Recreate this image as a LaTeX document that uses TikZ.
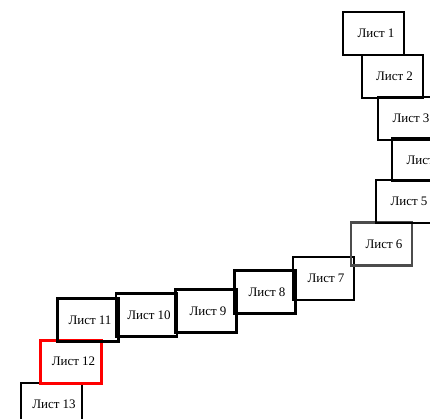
\documentclass[tikz,border=0pt]{standalone}
\usepackage{fontspec}
\setmainfont{Liberation Serif}

\begin{document}
\begin{tikzpicture}[x=1pt, y=-1pt,
    sheet/.style={draw, line width=2pt, minimum width=61pt, minimum height=43pt,
                  inner sep=0pt, font=\fontsize{13}{15}\selectfont,
                  execute at begin node=\hspace*{5pt}}]
    \useasboundingbox (0,0) rectangle (430,419);
    \clip (0,0) rectangle (430,419);

    % нижние листы
    \node[sheet, line width=1.5pt] (list13) at (51.5,404.5) {Лист 13};
    \node[sheet, draw=red, line width=3pt] (list12) at (71,361.5) {Лист 12};
    \node[sheet, line width=3pt] (list11) at (87.5,320) {Лист 11};
    \node[sheet, line width=2.5pt] (list10) at (146.5,315) {Лист 10};
    \node[sheet, line width=3pt] (list9) at (205.5,311) {Лист 9};
    \node[sheet, line width=3pt] (list8) at (264.5,292) {Лист 8};
    \node[sheet, line width=2.5pt] (list7) at (323.5,278.5) {Лист 7};

    % серый лист
    \node[sheet, draw=black!70, line width=2.5pt] (list6) at (381.5,244) {Лист 6};

    % верхние листы
    \node[sheet, line width=1.5pt] (list5) at (406.5,201.5) {Лист 5};
    \node[sheet] (list4) at (422.5,160) {Лист 4};
    \node[sheet] (list3) at (408.5,118.5) {Лист 3};
    \node[sheet] (list2) at (392,76.5) {Лист 2};
    \node[sheet] (list1) at (373.5,33.5) {Лист 1};
\end{tikzpicture}
\end{document}
